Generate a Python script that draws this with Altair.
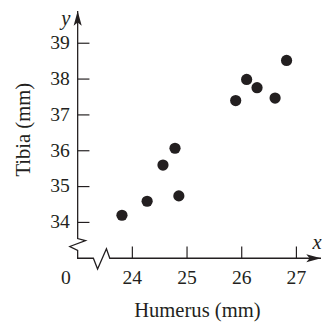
import altair as alt
import pandas as pd

# ---- data ----
humerus = [23.81, 24.27, 24.56, 24.78, 24.85, 25.89, 26.09, 26.28, 26.61, 26.82]
tibia = [34.20, 34.59, 35.60, 36.07, 34.74, 37.40, 37.99, 37.76, 37.47, 38.52]
x_ticks = [24, 25, 26, 27]
y_ticks = [34, 35, 36, 37, 38, 39]
x_domain = [23.0, 27.45]
y_domain = [33.0, 39.9]
# axis outline with the two break zig-zags (data units)
axis_x = [23, 23, 23.1435, 22.856, 23, 23, 23.287, 23.364, 23.526, 23.587, 27.45]
axis_y = [39.9, 33.548, 33.493, 33.329, 33.219, 33, 33, 32.70, 33.266, 33, 33]

INK = "#231f20"
FONT = "Liberation Serif"
W, H = 248, 252

xs = alt.Scale(domain=x_domain, nice=False, zero=False)
ys = alt.Scale(domain=y_domain, nice=False, zero=False)

pts = pd.DataFrame({"Humerus": humerus, "Tibia": tibia})
axis_df = pd.DataFrame({"x": axis_x, "y": axis_y, "o": list(range(len(axis_x)))})
xt_df = pd.DataFrame({"x": x_ticks, "lab": [str(v) for v in x_ticks]})
yt_df = pd.DataFrame({"y": y_ticks, "lab": [str(v) for v in y_ticks]})

up_path = "M0,0 L0.55,2 L0,1.55 L-0.55,2 Z"
right_path = "M0,0 L-2,-0.55 L-1.55,0 L-2,0.55 Z"
arrow_df = pd.DataFrame({
    "x": [x_domain[0], x_domain[1]],
    "y": [y_domain[1], y_domain[0]],
    "shape": [up_path, right_path],
})

points = alt.Chart(pts).mark_circle(size=130, color=INK, opacity=1).encode(
    x=alt.X("Humerus:Q", scale=xs, axis=None),
    y=alt.Y("Tibia:Q", scale=ys, axis=None),
)

axis_line = alt.Chart(axis_df).mark_line(color=INK, strokeWidth=1.3).encode(
    x=alt.X("x:Q", scale=xs, axis=None),
    y=alt.Y("y:Q", scale=ys, axis=None),
    order="o:Q",
)

yticks = alt.Chart(yt_df).mark_rule(color=INK, strokeWidth=1.2).encode(
    y=alt.Y("y:Q", scale=ys, axis=None), x=alt.value(0), x2=alt.value(12)
)
xticks = alt.Chart(xt_df).mark_rule(color=INK, strokeWidth=1.2).encode(
    x=alt.X("x:Q", scale=xs, axis=None), y=alt.value(H), y2=alt.value(H - 12)
)

ylabels = alt.Chart(yt_df).mark_text(
    font=FONT, fontSize=20, color=INK, align="right", baseline="middle"
).encode(y=alt.Y("y:Q", scale=ys, axis=None), x=alt.value(-8), text="lab:N")
xlabels = alt.Chart(xt_df).mark_text(
    font=FONT, fontSize=20, color=INK, align="center", baseline="middle"
).encode(x=alt.X("x:Q", scale=xs, axis=None), y=alt.value(H + 20), text="lab:N")

arrows = alt.Chart(arrow_df).mark_point(filled=True, size=225, color=INK, opacity=1, strokeWidth=0).encode(
    x=alt.X("x:Q", scale=xs, axis=None),
    y=alt.Y("y:Q", scale=ys, axis=None),
    shape=alt.Shape("shape:N", scale=None, legend=None),
)


def label(txt, x, y, size=20, style="normal", angle=0, baseline="middle"):
    return alt.Chart(pd.DataFrame({"t": [txt]})).mark_text(
        font=FONT, fontSize=size, fontStyle=style, color=INK, angle=angle,
        align="center", baseline=baseline,
    ).encode(text="t:N", x=alt.value(x), y=alt.value(y))


texts = [
    label("0", -12, 272),
    label("Humerus (mm)", 122, 312, size=21, baseline="alphabetic"),
    label("Tibia (mm)", -49, 121, size=21, angle=270, baseline="alphabetic"),
    label("y", -12, 8, size=21, style="italic"),
    label("x", 244, 237, size=21, style="italic"),
]

chart = alt.layer(points, axis_line, yticks, xticks, ylabels, xlabels, arrows, *texts).properties(
    width=W, height=H,
    autosize=alt.AutoSizeParams(type="none"),
    padding={"left": 71, "top": 0, "right": 1, "bottom": 66},
).configure_view(stroke=None)

chart.save("out.html", embed_options={"renderer": "svg", "actions": False})
